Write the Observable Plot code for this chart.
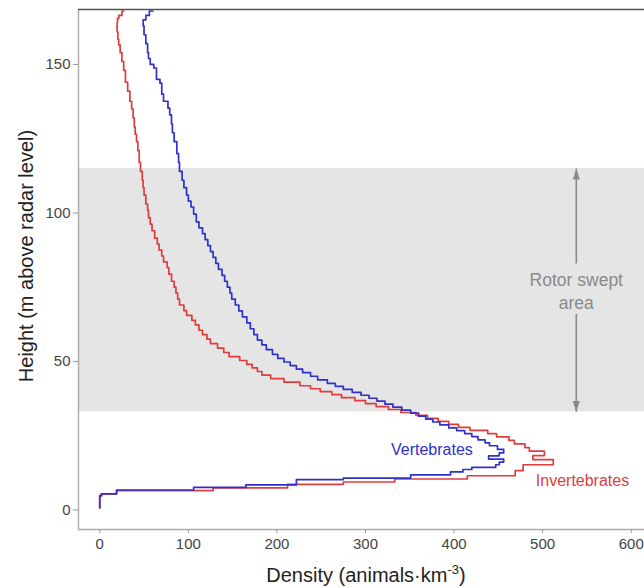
<!DOCTYPE html>
<html><head><meta charset="utf-8">
<script src="https://cdn.jsdelivr.net/npm/d3@7"></script>
<script src="https://cdn.jsdelivr.net/npm/@observablehq/plot@0.6"></script>
<style>
html,body{margin:0;padding:0;background:#fff;}
#chart{width:644px;height:588px;font-family:"Liberation Sans",Arial,sans-serif;}
</style>
</head><body><div id="chart"></div>
<script>
// Vertebrates profile: height (m) where each density step starts, density (animals/km3)
const vertHeight = [0.7,4.8,5.4,6.7,7.6,8.4,10.2,10.7,11.8,12.8,13.6,14.3,15.2,16.1,17.1,18.2,19.2,20.4,21.6,22.6,23.6,24.7,25.7,26.7,27.6,28.6,29.6,30.6,31.6,32.6,33.6,34.6,35.6,36.6,37.6,38.6,39.6,40.6,41.6,42.6,43.8,45,46.2,47.4,48.6,49.8,51,52.4,54,55.6,57.2,59,61,63,65,67,69,71,73,75,77,79,81,83,85,87,89,91,93,95,97,99.6,102,104,106,108.5,111,114,117,120,124,127,130,133,135.3,137.6,140,143.7,145,148.8,150,152,154,157,160,163,165,166.5,168];
const vertDensity = [0,2,19,106,165,222,275,351,396,410,420,447,451,456,439,451,456,449,440,435,427,420,412,403,394,384,376,368,360,351,341,331,322,313,304,295,285,275,266,257,246,238,229,222,215,208,201,195,188,183,178,174,170,166,161,157,153,149,147,144,141,138,134,131,128,125,122,119,116,112,109,106,103,100,98,95,93,90,89,87,84,82,81,79,77,72,70,68,64,61,57,55,54,52,50,49,52,56,60];
// Invertebrates profile
const invHeight = [0.7,4.8,5.4,6.5,7.4,8.6,9.4,10.4,11.5,13.2,15.2,16.9,18.3,19.8,21,22.2,23.4,24.6,25.7,26.8,27.8,28.8,29.8,30.8,31.8,32.8,33.8,34.8,35.8,36.8,37.8,38.8,39.8,40.8,41.8,43,44.2,45.4,46.6,47.8,49,50.3,51.6,53,54.5,56,57.5,59,60.5,62.3,63.8,65.5,67.1,69,71,73,75,77,79.4,81.6,83.5,85.5,87.5,89.5,91.5,94,96.2,98.4,101,103,106,108.5,111,114,117,121,124,126.5,129,132,135,137.6,141,144,148,151,154,156.6,158.5,161,164,165.5,166.5,168];
const invDensity = [0,2,19,128,212,275,333,415,469,478,512,489,502,485,480,468,462,448,438,418,405,394,382,370,357,340,326,312,300,288,273,262,249,238,226,208,193,183,178,172,166,158,146,140,133,125,121,116,112,108,104,98,95,90,88,86,84,81,78,76,72,70,67,65,62,59,57,55,54,52,50,49,48,46,44.5,43,41.5,40,39,37.7,36,34,31.5,29,27,25,23,21.4,20.5,19.6,20,21.5,25,27];

const xTicks = [0,100,200,300,400,500,600];
const yTicks = [0,50,100,150];
const xDomain = [-24, 615];
const yDomain = [-6.6, 168.5];
const rotorBand = [33, 115];          // rotor swept area (m)
const rotorLabel = "Rotor swept\narea";
const rotorLabelHeight = 74;
const arrowDensity = 538;
const arrowGap = [66, 83];
const seriesNames = ["Vertebrates", "Invertebrates"];
const seriesLabelDensity = [375, 545];
const seriesLabelHeight = [20.1, 9.8];

const RED = "#e03c3c", BLUE = "#3030cc", GRAY = "#8a8a8a";

const vert = vertHeight.map((h, i) => ({h, d: vertDensity[i]}));
const inv = invHeight.map((h, i) => ({h, d: invDensity[i]}));

const head = {draw(ctx) { ctx.moveTo(0, 0); ctx.lineTo(3.5, 11); ctx.lineTo(-3.5, 11); ctx.closePath(); }};

const arrowSegs = [
  {y1: arrowGap[1], y2: rotorBand[1]},
  {y1: arrowGap[0], y2: rotorBand[0]}
];
const heads = [
  {y: rotorBand[1], r: 0},
  {y: rotorBand[0], r: 180}
];
const labels = seriesNames.map((n, i) => ({n, x: seriesLabelDensity[i], y: seriesLabelHeight[i], c: i === 0 ? BLUE : RED}));

const plot = Plot.plot({
  width: 644, height: 588,
  marginLeft: 78, marginRight: 0, marginTop: 9, marginBottom: 59,
  style: {fontFamily: "Liberation Sans, Arial, sans-serif", background: "#fff"},
  x: {domain: xDomain},
  y: {domain: yDomain},
  marks: [
    Plot.rect([rotorBand], {x1: () => xDomain[0], x2: () => xDomain[1], y1: d => d[0], y2: d => d[1], fill: "#e5e5e5"}),
    Plot.link(arrowSegs, {x1: () => arrowDensity, x2: () => arrowDensity, y1: "y1", y2: "y2", stroke: GRAY, strokeWidth: 1.6}),
    Plot.dot(heads, {x: () => arrowDensity, y: "y", rotate: "r", symbol: head, fill: GRAY, stroke: "none"}),
    Plot.text([rotorLabel], {x: () => arrowDensity, y: () => rotorLabelHeight, text: d => d, fill: GRAY, fontSize: 17.5, lineHeight: 1.3}),
    Plot.line(inv, {x: "d", y: "h", curve: "step-before", stroke: RED, strokeWidth: 1.7}),
    Plot.line(vert, {x: "d", y: "h", curve: "step-before", stroke: BLUE, strokeWidth: 1.7}),
    Plot.text(labels, {x: "x", y: "y", text: "n", fill: "c", fontSize: 16}),
    Plot.ruleX([xDomain[0]], {stroke: "#aaa", strokeWidth: 1.4}),
    Plot.ruleY([yDomain[0]], {stroke: "#aaa", strokeWidth: 1.4}),
    Plot.ruleY([yDomain[1]], {stroke: "#555", strokeWidth: 1.4}),
    Plot.axisX(xTicks, {tickSize: 4, tickPadding: 5, stroke: "#999", fill: "#444", fontSize: 15, label: null}),
    Plot.axisY(yTicks, {tickSize: 5, tickPadding: 3, stroke: "#999", fill: "#444", fontSize: 15, label: null})
  ]
});
document.getElementById("chart").appendChild(plot);

// axis titles
const svg = d3.select(plot);
const xt = svg.append("text")
  .attr("x", 366).attr("y", 582)
  .attr("text-anchor", "middle")
  .attr("font-size", 20).attr("fill", "#222");
xt.append("tspan").text("Density (animals·km");
xt.append("tspan").attr("font-size", 13).attr("dy", -8).text("-3");
xt.append("tspan").attr("dy", 8).text(")");
svg.append("text")
  .attr("transform", "translate(33,256) rotate(-90)")
  .attr("text-anchor", "middle")
  .attr("font-size", 20).attr("fill", "#222")
  .text("Height (m above radar level)");
</script>
</body></html>
